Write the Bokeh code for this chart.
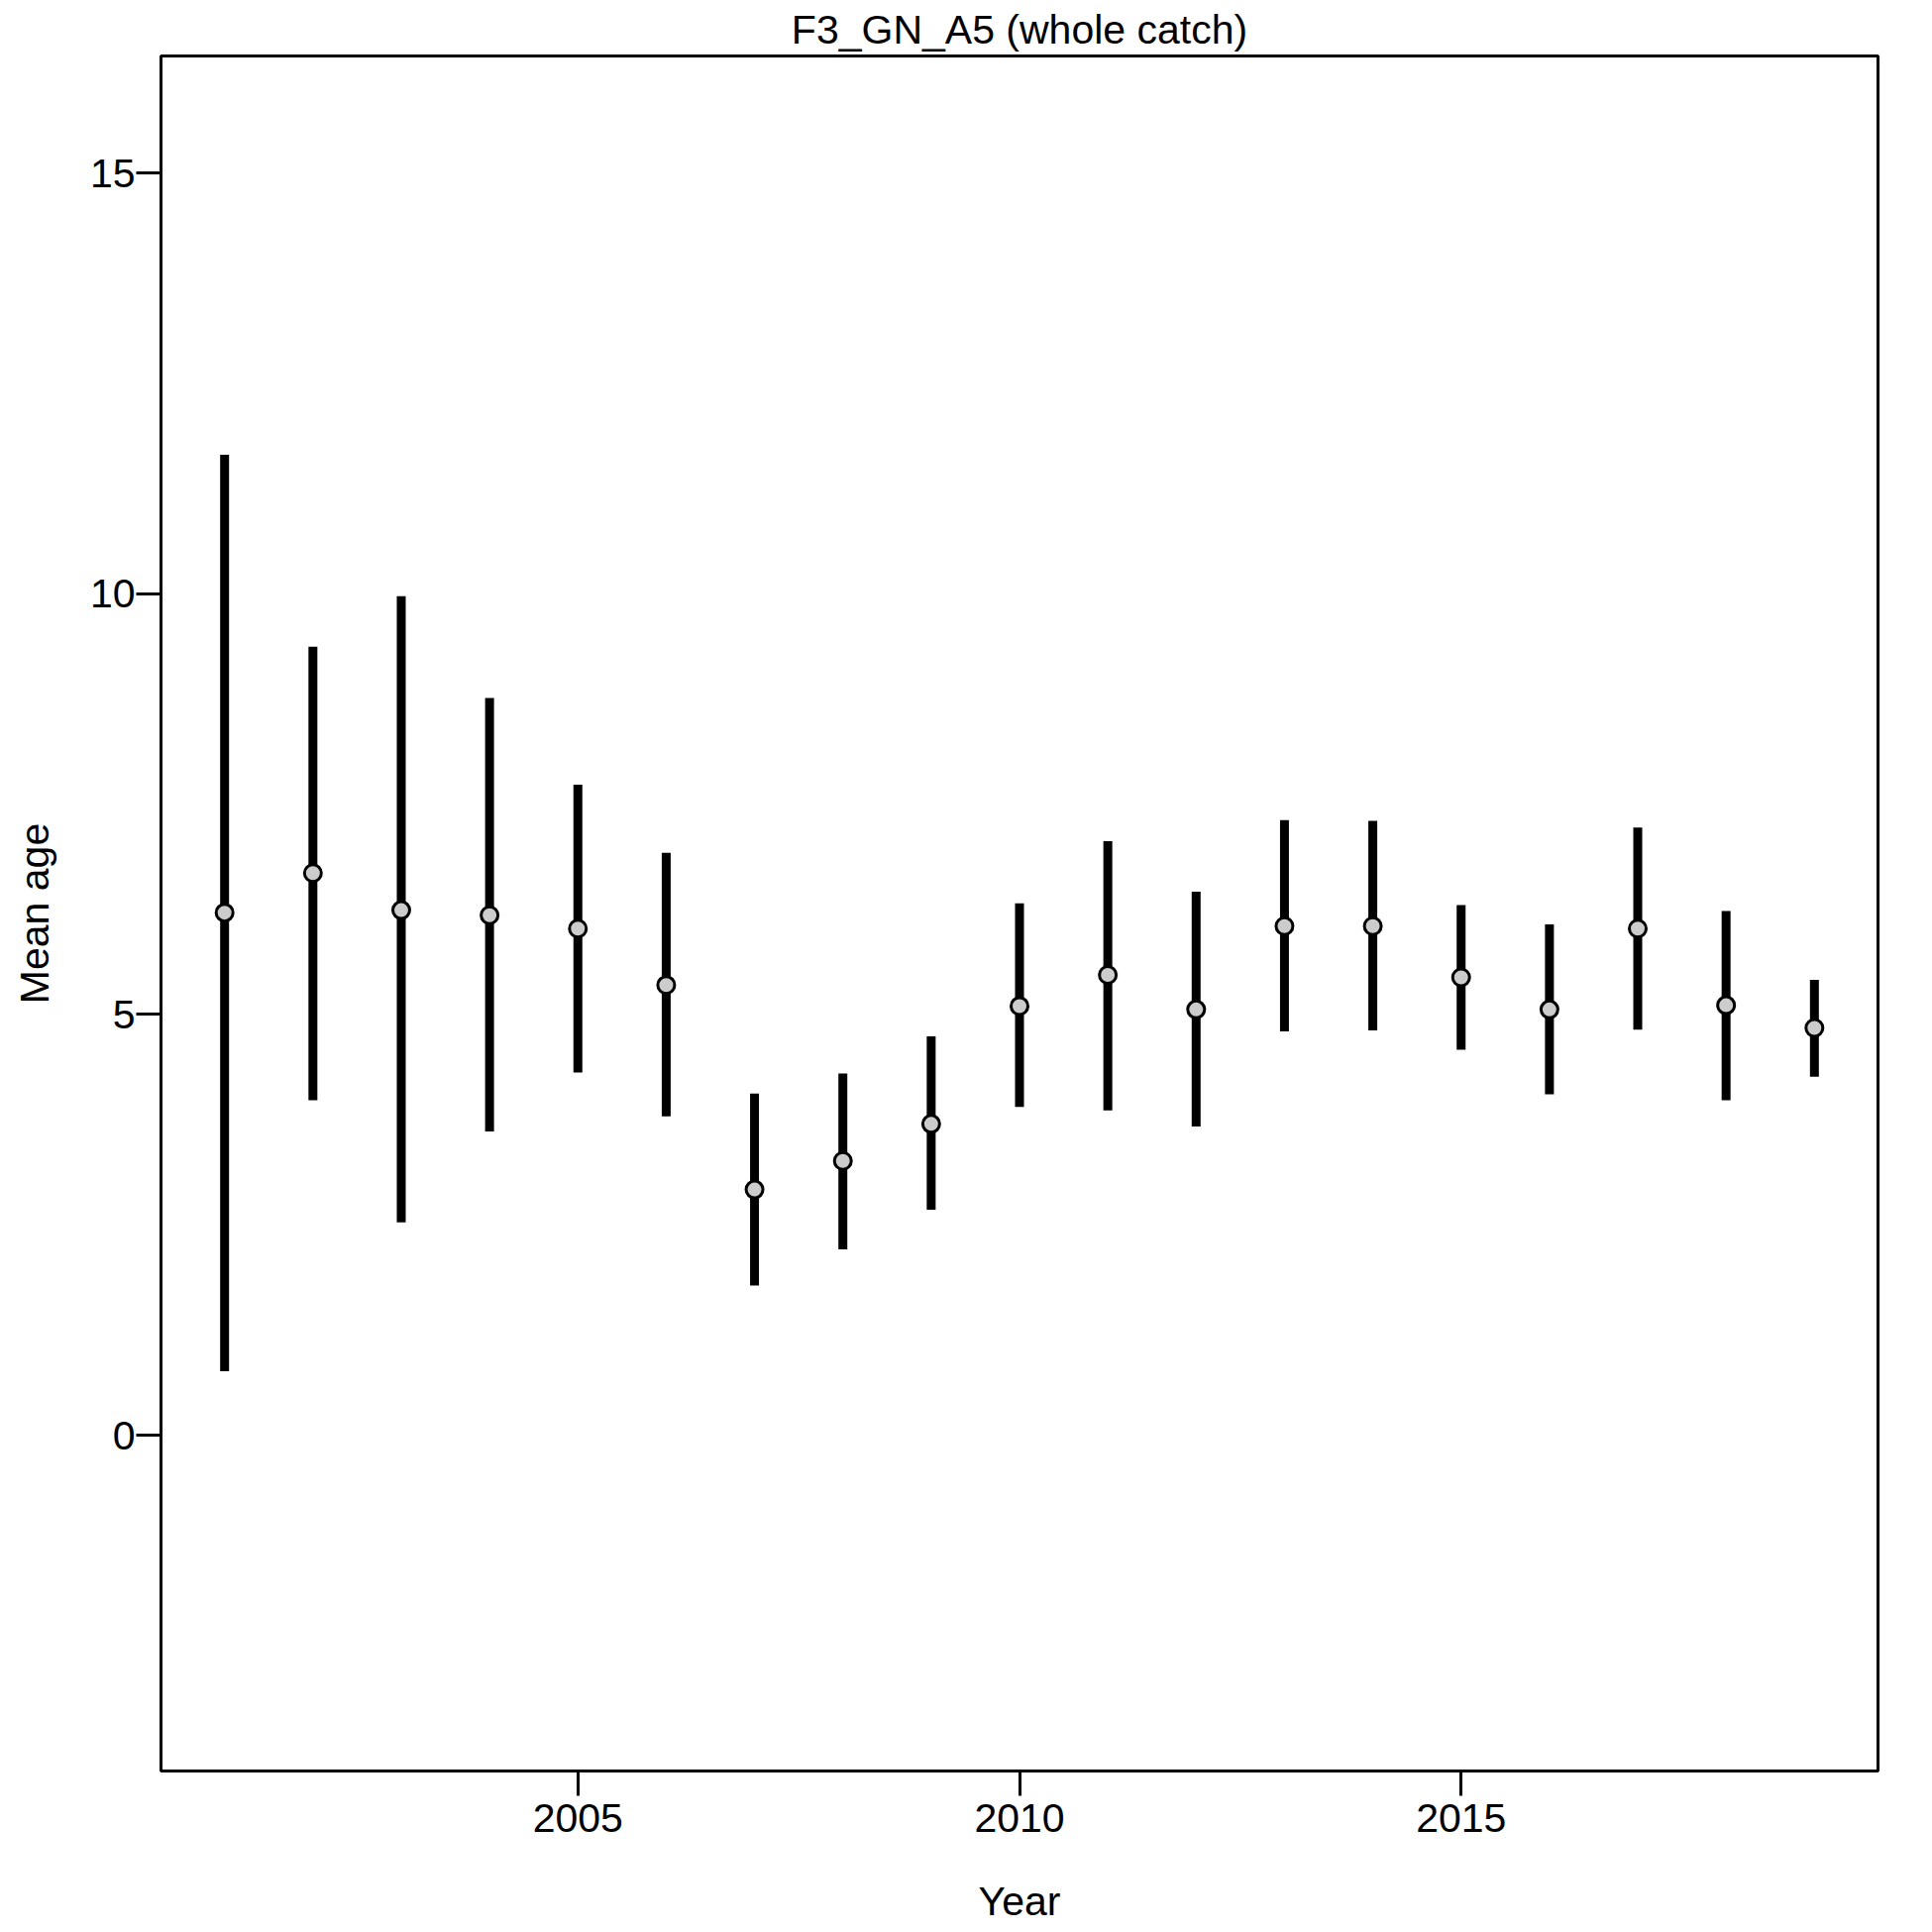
from bokeh.plotting import figure
from bokeh.models import Range1d, FixedTicker
from bokeh.embed import file_html
from bokeh.resources import INLINE

# ---- data ----
years = [2001, 2002, 2003, 2004, 2005, 2006, 2007, 2008, 2009, 2010,
         2011, 2012, 2013, 2014, 2015, 2016, 2017, 2018, 2019]
mean_age = [6.21, 6.68, 6.24, 6.18, 6.02, 5.35, 2.92, 3.26, 3.70, 5.10,
            5.47, 5.06, 6.05, 6.05, 5.44, 5.06, 6.02, 5.11, 4.84]
upper = [11.65, 9.37, 9.97, 8.76, 7.73, 6.92, 4.06, 4.30, 4.74, 6.32,
         7.06, 6.46, 7.31, 7.30, 6.30, 6.07, 7.22, 6.23, 5.41]
lower = [0.76, 3.98, 2.53, 3.61, 4.31, 3.79, 1.78, 2.21, 2.68, 3.90,
         3.86, 3.67, 4.80, 4.81, 4.58, 4.05, 4.82, 3.98, 4.26]
x_ticks = [2005, 2010, 2015]
y_ticks = [0, 5, 10, 15]

FONT = "Liberation Sans"
FS = "41px"

p = figure(width=1946, height=1946, output_backend="svg", toolbar_location=None,
           x_range=Range1d(2000.28, 2019.72), y_range=Range1d(-3.99, 16.39),
           min_border_left=162, min_border_right=51, min_border_top=55,
           min_border_bottom=159)

p.title.text = "F3_GN_A5 (whole catch)"
p.title.align = "center"
p.title.text_font = FONT
p.title.text_font_size = FS
p.title.text_font_style = "normal"
p.title.text_color = "black"
p.title.standoff = 8

p.grid.visible = False
p.background_fill_color = "white"
p.border_fill_color = "white"
p.outline_line_color = "black"
p.outline_line_width = 3
p.outline_line_alpha = 1.0

p.xaxis.ticker = FixedTicker(ticks=x_ticks)
p.yaxis.ticker = FixedTicker(ticks=y_ticks)
for ax in (p.xaxis, p.yaxis):
    ax.axis_line_color = None
    ax.major_tick_out = 25
    ax.major_tick_in = 0
    ax.major_tick_line_width = 3
    ax.major_tick_line_color = "black"
    ax.minor_tick_line_color = None
    ax.major_label_text_font = FONT
    ax.major_label_text_font_size = FS
    ax.major_label_text_color = "black"
    ax.axis_label_text_font = FONT
    ax.axis_label_text_font_size = FS
    ax.axis_label_text_font_style = "normal"
    ax.axis_label_text_color = "black"
p.xaxis.major_label_standoff = 8
p.yaxis.major_label_standoff = 1
p.yaxis.major_label_orientation = "horizontal"
p.xaxis.axis_label = "Year"
p.yaxis.axis_label = "Mean age"
p.xaxis.axis_label_standoff = 44
p.yaxis.axis_label_standoff = 30

p.segment(x0=years, y0=lower, x1=years, y1=upper, line_width=9,
          line_color="black", line_cap="butt")
p.scatter(years, mean_age, size=17, fill_color="#cccccc",
          line_color="black", line_width=3)

open("out.html", "w").write(file_html(p, INLINE))
